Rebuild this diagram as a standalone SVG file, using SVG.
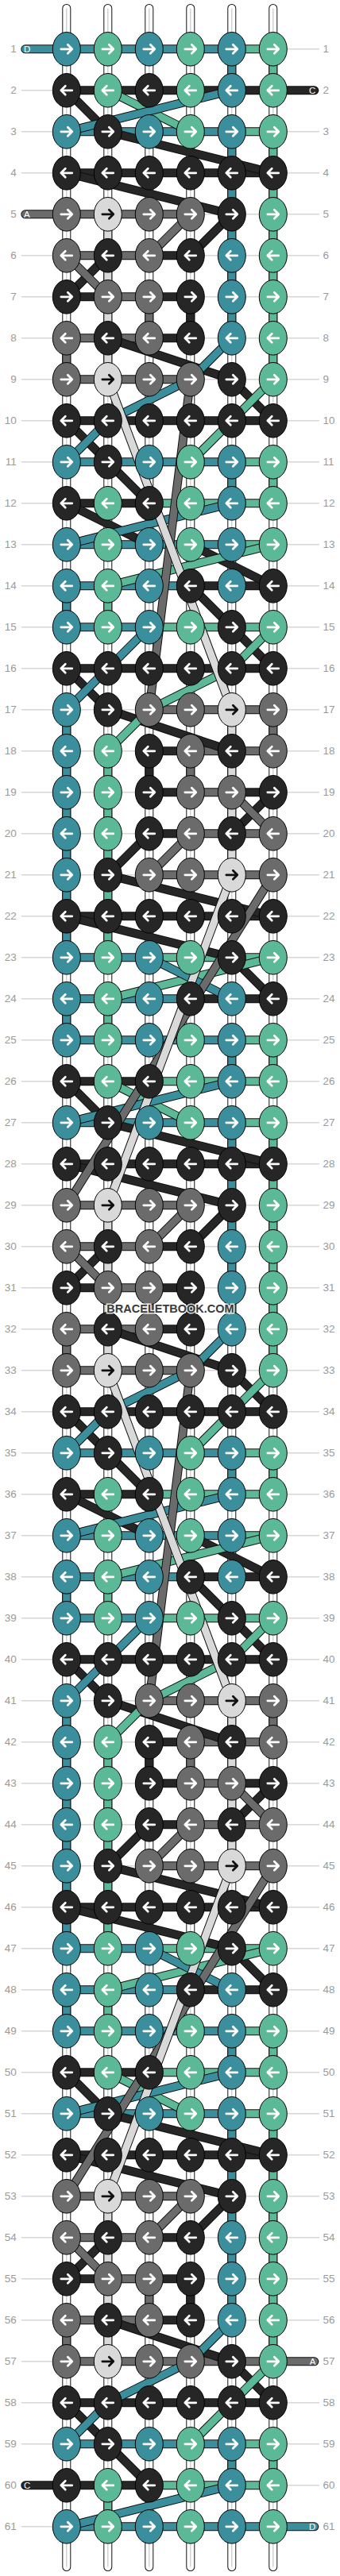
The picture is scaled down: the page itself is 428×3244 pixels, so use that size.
<svg xmlns="http://www.w3.org/2000/svg" width="428" height="3244" viewBox="0 0 428 3244">
<style>
.o{fill:none;stroke:#111;stroke-width:11;stroke-linejoin:round}
.cT{fill:none;stroke:#3b8f9d;stroke-width:9;stroke-linejoin:round}
.cM{fill:none;stroke:#5cb997;stroke-width:9;stroke-linejoin:round}
.cK{fill:none;stroke:#262626;stroke-width:9;stroke-linejoin:round}
.cG{fill:none;stroke:#6b6b6b;stroke-width:9;stroke-linejoin:round}
.cL{fill:none;stroke:#d9d9d9;stroke-width:9;stroke-linejoin:round}
.lbl{font-family:"Liberation Sans",Arial,sans-serif;font-size:13.5px;fill:#9a9a9a}
.ext{font-family:"Liberation Sans",Arial,sans-serif;font-size:11.5px;fill:#fff}
</style>
<defs>
<ellipse id="e" rx="17.5" ry="21.3" stroke="#000" stroke-width="1"/>
<path id="a" d="M-7,0H6M1.5,-5.5L7,0L1.5,5.5" fill="none" stroke-width="2.7" stroke-linecap="round" stroke-linejoin="round"/>
<g id="TR"><use href="#e" fill="#3b8f9d"/><use href="#a" stroke="#fff"/></g>
<g id="TL"><use href="#e" fill="#3b8f9d"/><use href="#a" stroke="#fff" transform="scale(-1,1)"/></g>
<g id="MR"><use href="#e" fill="#5cb997"/><use href="#a" stroke="#fff"/></g>
<g id="ML"><use href="#e" fill="#5cb997"/><use href="#a" stroke="#fff" transform="scale(-1,1)"/></g>
<g id="KR"><use href="#e" fill="#262626"/><use href="#a" stroke="#fff"/></g>
<g id="KL"><use href="#e" fill="#262626"/><use href="#a" stroke="#fff" transform="scale(-1,1)"/></g>
<g id="GR"><use href="#e" fill="#6b6b6b"/><use href="#a" stroke="#fff"/></g>
<g id="GL"><use href="#e" fill="#6b6b6b"/><use href="#a" stroke="#fff" transform="scale(-1,1)"/></g>
<g id="LR"><use href="#e" fill="#d9d9d9"/><use href="#a" stroke="#111"/></g>
<g id="LL"><use href="#e" fill="#d9d9d9"/><use href="#a" stroke="#111" transform="scale(-1,1)"/></g>
<path id="pp" d="M0,-51.3V3170.7M52,-51.3V3170.7M104,-51.3V3170.7M156,-51.3V3170.7M208,-51.3V3170.7M260,-51.3V3170.7"/>
<path id="S1T" d="M0,0H208M0,104H208M0,520H208M208,0V52M208,104V364M208,520V572"/>
<path id="S1M" d="M208,0H260M208,104H260M208,520H260M104,572H260M260,0V52M260,104V416M260,520V572"/>
<path id="S1K" d="M0,156H260M104,260H156M0,312H52M104,312H156M104,364H156M0,468H260M0,572H104M156,312V364"/>
<path id="S1G" d="M0,208H156M0,260H104M52,312H104M0,364H104M104,312V364M0,364V416"/>
<path id="S1L" d="M52,208V416"/>
<path id="S2T" d="M0,624H208M0,676H156M0,728H104M0,1144H104M0,1196H156M0,676V728M0,832V1144M0,1196V1248"/>
<path id="S2M" d="M208,624H260M104,728H260M104,1144H260M52,676V728M52,884V1144M52,1196V1248"/>
<path id="S2K" d="M156,676H260M0,780H260M104,884H156M104,936H156M208,936H260M104,988H156M0,1092H260M156,1196H260M104,884V936"/>
<path id="S2G" d="M104,832H260M156,884H260M156,936H208M156,988H260M104,1040H260M260,832V884M156,884V936"/>
<path id="S2L" d="M208,832V1040"/>
<path id="XT" d="M-52,0H0M0,3120H312" stroke-linecap="round"/>
<path id="XK" d="M0,52H312M-52,3068H0M0,1300H104M0,2548H104" stroke-linecap="round"/>
<path id="XM" d="M104,1300H260M104,2548H260M52,3068V3120"/>
<path id="XG" d="M-52,208H0M0,416H156M0,1664H156M0,2912H312" stroke-linecap="round"/>
<path id="D1T" d="M208,52L0,104M208,364L156,416L52,468L0,520M208,572L0,624"/>
<path id="D1M" d="M52,52L156,104M260,416L208,468L156,520"/>
<path id="D1K" d="M0,52L52,104M52,104L260,156M0,156L208,208M208,208L156,260M52,260L0,312M52,364L208,416M208,416L260,468M0,468L52,520M52,520L104,572"/>
<path id="D1G" d="M156,208L104,260M0,260L52,312"/>
<path id="D2T" d="M104,728L52,780L0,832M104,1144L208,1196"/>
<path id="D2M" d="M52,676L260,624M260,728L208,780L104,832L52,884M260,1144L52,1196"/>
<path id="D2K" d="M0,572L104,624M156,624L260,676M156,676L208,728M208,728L260,780M0,780L52,832M52,832L208,884M260,936L208,988M104,988L52,1040M52,1040L260,1092M0,1092L208,1144M208,1144L260,1196"/>
<path id="D2G" d="M156,416L104,832M208,936L260,988M156,988L104,1040M260,1040L0,1456"/>
<path id="D2L" d="M52,416L208,832M208,1040L52,1456"/>
<g id="gST"><use href="#S1T"/><use href="#S1T" y="1248"/><use href="#S1T" y="2496"/><use href="#S2T"/><use href="#S2T" y="1248"/><use href="#XT"/></g>
<g id="gSM"><use href="#S1M"/><use href="#S1M" y="1248"/><use href="#S1M" y="2496"/><use href="#S2M"/><use href="#S2M" y="1248"/><use href="#XM"/></g>
<g id="gSK"><use href="#S1K"/><use href="#S1K" y="1248"/><use href="#S1K" y="2496"/><use href="#S2K"/><use href="#S2K" y="1248"/><use href="#XK"/></g>
<g id="gSG"><use href="#S1G"/><use href="#S1G" y="1248"/><use href="#S1G" y="2496"/><use href="#S2G"/><use href="#S2G" y="1248"/><use href="#XG"/></g>
<g id="gSL"><use href="#S1L"/><use href="#S1L" y="1248"/><use href="#S1L" y="2496"/><use href="#S2L"/><use href="#S2L" y="1248"/></g>
<g id="gDT"><use href="#D1T"/><use href="#D1T" y="1248"/><use href="#D1T" y="2496"/><use href="#D2T"/><use href="#D2T" y="1248"/></g>
<g id="gDM"><use href="#D1M"/><use href="#D1M" y="1248"/><use href="#D1M" y="2496"/><use href="#D2M"/><use href="#D2M" y="1248"/></g>
<g id="gDK"><use href="#D1K"/><use href="#D1K" y="1248"/><use href="#D1K" y="2496"/><use href="#D2K"/><use href="#D2K" y="1248"/></g>
<g id="gDG"><use href="#D1G"/><use href="#D1G" y="1248"/><use href="#D1G" y="2496"/><use href="#D2G"/><use href="#D2G" y="1248"/></g>
<g id="gDL"><use href="#D2L"/><use href="#D2L" y="1248"/></g>
</defs>
<rect width="428" height="3244" fill="#fff"/>
<g transform="translate(83.8,61.8)">
<path id="rowlines" fill="none" stroke="#c4c4c4" stroke-width="1" d="M-56.8,0H318.2M-56.8,52H318.2M-56.8,104H318.2M-56.8,156H318.2M-56.8,208H318.2M-56.8,260H318.2M-56.8,312H318.2M-56.8,364H318.2M-56.8,416H318.2M-56.8,468H318.2M-56.8,520H318.2M-56.8,572H318.2M-56.8,624H318.2M-56.8,676H318.2M-56.8,728H318.2M-56.8,780H318.2M-56.8,832H318.2M-56.8,884H318.2M-56.8,936H318.2M-56.8,988H318.2M-56.8,1040H318.2M-56.8,1092H318.2M-56.8,1144H318.2M-56.8,1196H318.2M-56.8,1248H318.2M-56.8,1300H318.2M-56.8,1352H318.2M-56.8,1404H318.2M-56.8,1456H318.2M-56.8,1508H318.2M-56.8,1560H318.2M-56.8,1612H318.2M-56.8,1664H318.2M-56.8,1716H318.2M-56.8,1768H318.2M-56.8,1820H318.2M-56.8,1872H318.2M-56.8,1924H318.2M-56.8,1976H318.2M-56.8,2028H318.2M-56.8,2080H318.2M-56.8,2132H318.2M-56.8,2184H318.2M-56.8,2236H318.2M-56.8,2288H318.2M-56.8,2340H318.2M-56.8,2392H318.2M-56.8,2444H318.2M-56.8,2496H318.2M-56.8,2548H318.2M-56.8,2600H318.2M-56.8,2652H318.2M-56.8,2704H318.2M-56.8,2756H318.2M-56.8,2808H318.2M-56.8,2860H318.2M-56.8,2912H318.2M-56.8,2964H318.2M-56.8,3016H318.2M-56.8,3068H318.2M-56.8,3120H318.2"/>
<g id="strings">
<use href="#pp" class="o" stroke-linecap="round"/>
<use href="#pp" fill="none" stroke="#fff" stroke-width="9" stroke-linecap="round"/>
<use href="#pp" fill="none" stroke="#c8c8c8" stroke-width="1.2"/>
</g>
<g id="connectors">
<use href="#gST" class="o"/><use href="#gST" class="cT"/>
<use href="#gSM" class="o"/><use href="#gSM" class="cM"/>
<use href="#gSK" class="o"/><use href="#gSK" class="cK"/>
<use href="#gSG" class="o"/><use href="#gSG" class="cG"/>
<use href="#gSL" class="o"/><use href="#gSL" class="cL"/>
<use href="#gDK" class="o"/><use href="#gDK" class="cK"/>
<use href="#gDM" class="o"/><use href="#gDM" class="cM"/>
<use href="#gDT" class="o"/><use href="#gDT" class="cT"/>
<use href="#gDG" class="o"/><use href="#gDG" class="cG"/>
<use href="#gDL" class="o"/><use href="#gDL" class="cL"/>
</g>
<g id="knots">
<g transform="translate(0,0)"><g id="n1-1"><use href="#TR"/></g><g id="n1-2"><use href="#MR" x="52"/></g><g id="n1-3"><use href="#TR" x="104"/></g><g id="n1-4"><use href="#MR" x="156"/></g><g id="n1-5"><use href="#TR" x="208"/></g><g id="n1-6"><use href="#MR" x="260"/></g></g>
<g transform="translate(0,52)"><g id="n2-1"><use href="#KL"/></g><g id="n2-2"><use href="#ML" x="52"/></g><g id="n2-3"><use href="#KL" x="104"/></g><g id="n2-4"><use href="#ML" x="156"/></g><g id="n2-5"><use href="#TL" x="208"/></g><g id="n2-6"><use href="#ML" x="260"/></g></g>
<g transform="translate(0,104)"><g id="n3-1"><use href="#TR"/></g><g id="n3-2"><use href="#KR" x="52"/></g><g id="n3-3"><use href="#TR" x="104"/></g><g id="n3-4"><use href="#MR" x="156"/></g><g id="n3-5"><use href="#TR" x="208"/></g><g id="n3-6"><use href="#MR" x="260"/></g></g>
<g transform="translate(0,156)"><g id="n4-1"><use href="#KL"/></g><g id="n4-2"><use href="#KL" x="52"/></g><g id="n4-3"><use href="#KL" x="104"/></g><g id="n4-4"><use href="#KL" x="156"/></g><g id="n4-5"><use href="#KL" x="208"/></g><g id="n4-6"><use href="#KL" x="260"/></g></g>
<g transform="translate(0,208)"><g id="n5-1"><use href="#GR"/></g><g id="n5-2"><use href="#LR" x="52"/></g><g id="n5-3"><use href="#GR" x="104"/></g><g id="n5-4"><use href="#GR" x="156"/></g><g id="n5-5"><use href="#KR" x="208"/></g><g id="n5-6"><use href="#MR" x="260"/></g></g>
<g transform="translate(0,260)"><g id="n6-1"><use href="#GL"/></g><g id="n6-2"><use href="#KL" x="52"/></g><g id="n6-3"><use href="#GL" x="104"/></g><g id="n6-4"><use href="#KL" x="156"/></g><g id="n6-5"><use href="#TL" x="208"/></g><g id="n6-6"><use href="#ML" x="260"/></g></g>
<g transform="translate(0,312)"><g id="n7-1"><use href="#KR"/></g><g id="n7-2"><use href="#GR" x="52"/></g><g id="n7-3"><use href="#GR" x="104"/></g><g id="n7-4"><use href="#KR" x="156"/></g><g id="n7-5"><use href="#TR" x="208"/></g><g id="n7-6"><use href="#MR" x="260"/></g></g>
<g transform="translate(0,364)"><g id="n8-1"><use href="#GL"/></g><g id="n8-2"><use href="#KL" x="52"/></g><g id="n8-3"><use href="#GL" x="104"/></g><g id="n8-4"><use href="#KL" x="156"/></g><g id="n8-5"><use href="#TL" x="208"/></g><g id="n8-6"><use href="#ML" x="260"/></g></g>
<g transform="translate(0,416)"><g id="n9-1"><use href="#GR"/></g><g id="n9-2"><use href="#LR" x="52"/></g><g id="n9-3"><use href="#GR" x="104"/></g><g id="n9-4"><use href="#GR" x="156"/></g><g id="n9-5"><use href="#KR" x="208"/></g><g id="n9-6"><use href="#MR" x="260"/></g></g>
<g transform="translate(0,468)"><g id="n10-1"><use href="#KL"/></g><g id="n10-2"><use href="#KL" x="52"/></g><g id="n10-3"><use href="#KL" x="104"/></g><g id="n10-4"><use href="#KL" x="156"/></g><g id="n10-5"><use href="#KL" x="208"/></g><g id="n10-6"><use href="#KL" x="260"/></g></g>
<g transform="translate(0,520)"><g id="n11-1"><use href="#TR"/></g><g id="n11-2"><use href="#KR" x="52"/></g><g id="n11-3"><use href="#TR" x="104"/></g><g id="n11-4"><use href="#MR" x="156"/></g><g id="n11-5"><use href="#TR" x="208"/></g><g id="n11-6"><use href="#MR" x="260"/></g></g>
<g transform="translate(0,572)"><g id="n12-1"><use href="#KL"/></g><g id="n12-2"><use href="#ML" x="52"/></g><g id="n12-3"><use href="#KL" x="104"/></g><g id="n12-4"><use href="#ML" x="156"/></g><g id="n12-5"><use href="#TL" x="208"/></g><g id="n12-6"><use href="#ML" x="260"/></g></g>
<g transform="translate(0,624)"><g id="n13-1"><use href="#TR"/></g><g id="n13-2"><use href="#MR" x="52"/></g><g id="n13-3"><use href="#TR" x="104"/></g><g id="n13-4"><use href="#MR" x="156"/></g><g id="n13-5"><use href="#TR" x="208"/></g><g id="n13-6"><use href="#MR" x="260"/></g></g>
<g transform="translate(0,676)"><g id="n14-1"><use href="#TL"/></g><g id="n14-2"><use href="#ML" x="52"/></g><g id="n14-3"><use href="#TL" x="104"/></g><g id="n14-4"><use href="#KL" x="156"/></g><g id="n14-5"><use href="#TL" x="208"/></g><g id="n14-6"><use href="#KL" x="260"/></g></g>
<g transform="translate(0,728)"><g id="n15-1"><use href="#TR"/></g><g id="n15-2"><use href="#MR" x="52"/></g><g id="n15-3"><use href="#TR" x="104"/></g><g id="n15-4"><use href="#MR" x="156"/></g><g id="n15-5"><use href="#KR" x="208"/></g><g id="n15-6"><use href="#MR" x="260"/></g></g>
<g transform="translate(0,780)"><g id="n16-1"><use href="#KL"/></g><g id="n16-2"><use href="#KL" x="52"/></g><g id="n16-3"><use href="#KL" x="104"/></g><g id="n16-4"><use href="#KL" x="156"/></g><g id="n16-5"><use href="#KL" x="208"/></g><g id="n16-6"><use href="#KL" x="260"/></g></g>
<g transform="translate(0,832)"><g id="n17-1"><use href="#TR"/></g><g id="n17-2"><use href="#KR" x="52"/></g><g id="n17-3"><use href="#GR" x="104"/></g><g id="n17-4"><use href="#GR" x="156"/></g><g id="n17-5"><use href="#LR" x="208"/></g><g id="n17-6"><use href="#GR" x="260"/></g></g>
<g transform="translate(0,884)"><g id="n18-1"><use href="#TL"/></g><g id="n18-2"><use href="#ML" x="52"/></g><g id="n18-3"><use href="#KL" x="104"/></g><g id="n18-4"><use href="#GL" x="156"/></g><g id="n18-5"><use href="#KL" x="208"/></g><g id="n18-6"><use href="#GL" x="260"/></g></g>
<g transform="translate(0,936)"><g id="n19-1"><use href="#TR"/></g><g id="n19-2"><use href="#MR" x="52"/></g><g id="n19-3"><use href="#KR" x="104"/></g><g id="n19-4"><use href="#GR" x="156"/></g><g id="n19-5"><use href="#GR" x="208"/></g><g id="n19-6"><use href="#KR" x="260"/></g></g>
<g transform="translate(0,988)"><g id="n20-1"><use href="#TL"/></g><g id="n20-2"><use href="#ML" x="52"/></g><g id="n20-3"><use href="#KL" x="104"/></g><g id="n20-4"><use href="#GL" x="156"/></g><g id="n20-5"><use href="#KL" x="208"/></g><g id="n20-6"><use href="#GL" x="260"/></g></g>
<g transform="translate(0,1040)"><g id="n21-1"><use href="#TR"/></g><g id="n21-2"><use href="#KR" x="52"/></g><g id="n21-3"><use href="#GR" x="104"/></g><g id="n21-4"><use href="#GR" x="156"/></g><g id="n21-5"><use href="#LR" x="208"/></g><g id="n21-6"><use href="#GR" x="260"/></g></g>
<g transform="translate(0,1092)"><g id="n22-1"><use href="#KL"/></g><g id="n22-2"><use href="#KL" x="52"/></g><g id="n22-3"><use href="#KL" x="104"/></g><g id="n22-4"><use href="#KL" x="156"/></g><g id="n22-5"><use href="#KL" x="208"/></g><g id="n22-6"><use href="#KL" x="260"/></g></g>
<g transform="translate(0,1144)"><g id="n23-1"><use href="#TR"/></g><g id="n23-2"><use href="#MR" x="52"/></g><g id="n23-3"><use href="#TR" x="104"/></g><g id="n23-4"><use href="#MR" x="156"/></g><g id="n23-5"><use href="#KR" x="208"/></g><g id="n23-6"><use href="#MR" x="260"/></g></g>
<g transform="translate(0,1196)"><g id="n24-1"><use href="#TL"/></g><g id="n24-2"><use href="#ML" x="52"/></g><g id="n24-3"><use href="#TL" x="104"/></g><g id="n24-4"><use href="#KL" x="156"/></g><g id="n24-5"><use href="#TL" x="208"/></g><g id="n24-6"><use href="#KL" x="260"/></g></g>
<g transform="translate(0,1248)"><g id="n25-1"><use href="#TR"/></g><g id="n25-2"><use href="#MR" x="52"/></g><g id="n25-3"><use href="#TR" x="104"/></g><g id="n25-4"><use href="#MR" x="156"/></g><g id="n25-5"><use href="#TR" x="208"/></g><g id="n25-6"><use href="#MR" x="260"/></g></g>
<g transform="translate(0,1300)"><g id="n26-1"><use href="#KL"/></g><g id="n26-2"><use href="#ML" x="52"/></g><g id="n26-3"><use href="#KL" x="104"/></g><g id="n26-4"><use href="#ML" x="156"/></g><g id="n26-5"><use href="#TL" x="208"/></g><g id="n26-6"><use href="#ML" x="260"/></g></g>
<g transform="translate(0,1352)"><g id="n27-1"><use href="#TR"/></g><g id="n27-2"><use href="#KR" x="52"/></g><g id="n27-3"><use href="#TR" x="104"/></g><g id="n27-4"><use href="#MR" x="156"/></g><g id="n27-5"><use href="#TR" x="208"/></g><g id="n27-6"><use href="#MR" x="260"/></g></g>
<g transform="translate(0,1404)"><g id="n28-1"><use href="#KL"/></g><g id="n28-2"><use href="#KL" x="52"/></g><g id="n28-3"><use href="#KL" x="104"/></g><g id="n28-4"><use href="#KL" x="156"/></g><g id="n28-5"><use href="#KL" x="208"/></g><g id="n28-6"><use href="#KL" x="260"/></g></g>
<g transform="translate(0,1456)"><g id="n29-1"><use href="#GR"/></g><g id="n29-2"><use href="#LR" x="52"/></g><g id="n29-3"><use href="#GR" x="104"/></g><g id="n29-4"><use href="#GR" x="156"/></g><g id="n29-5"><use href="#KR" x="208"/></g><g id="n29-6"><use href="#MR" x="260"/></g></g>
<g transform="translate(0,1508)"><g id="n30-1"><use href="#GL"/></g><g id="n30-2"><use href="#KL" x="52"/></g><g id="n30-3"><use href="#GL" x="104"/></g><g id="n30-4"><use href="#KL" x="156"/></g><g id="n30-5"><use href="#TL" x="208"/></g><g id="n30-6"><use href="#ML" x="260"/></g></g>
<g transform="translate(0,1560)"><g id="n31-1"><use href="#KR"/></g><g id="n31-2"><use href="#GR" x="52"/></g><g id="n31-3"><use href="#GR" x="104"/></g><g id="n31-4"><use href="#KR" x="156"/></g><g id="n31-5"><use href="#TR" x="208"/></g><g id="n31-6"><use href="#MR" x="260"/></g></g>
<g transform="translate(0,1612)"><g id="n32-1"><use href="#GL"/></g><g id="n32-2"><use href="#KL" x="52"/></g><g id="n32-3"><use href="#GL" x="104"/></g><g id="n32-4"><use href="#KL" x="156"/></g><g id="n32-5"><use href="#TL" x="208"/></g><g id="n32-6"><use href="#ML" x="260"/></g></g>
<g transform="translate(0,1664)"><g id="n33-1"><use href="#GR"/></g><g id="n33-2"><use href="#LR" x="52"/></g><g id="n33-3"><use href="#GR" x="104"/></g><g id="n33-4"><use href="#GR" x="156"/></g><g id="n33-5"><use href="#KR" x="208"/></g><g id="n33-6"><use href="#MR" x="260"/></g></g>
<g transform="translate(0,1716)"><g id="n34-1"><use href="#KL"/></g><g id="n34-2"><use href="#KL" x="52"/></g><g id="n34-3"><use href="#KL" x="104"/></g><g id="n34-4"><use href="#KL" x="156"/></g><g id="n34-5"><use href="#KL" x="208"/></g><g id="n34-6"><use href="#KL" x="260"/></g></g>
<g transform="translate(0,1768)"><g id="n35-1"><use href="#TR"/></g><g id="n35-2"><use href="#KR" x="52"/></g><g id="n35-3"><use href="#TR" x="104"/></g><g id="n35-4"><use href="#MR" x="156"/></g><g id="n35-5"><use href="#TR" x="208"/></g><g id="n35-6"><use href="#MR" x="260"/></g></g>
<g transform="translate(0,1820)"><g id="n36-1"><use href="#KL"/></g><g id="n36-2"><use href="#ML" x="52"/></g><g id="n36-3"><use href="#KL" x="104"/></g><g id="n36-4"><use href="#ML" x="156"/></g><g id="n36-5"><use href="#TL" x="208"/></g><g id="n36-6"><use href="#ML" x="260"/></g></g>
<g transform="translate(0,1872)"><g id="n37-1"><use href="#TR"/></g><g id="n37-2"><use href="#MR" x="52"/></g><g id="n37-3"><use href="#TR" x="104"/></g><g id="n37-4"><use href="#MR" x="156"/></g><g id="n37-5"><use href="#TR" x="208"/></g><g id="n37-6"><use href="#MR" x="260"/></g></g>
<g transform="translate(0,1924)"><g id="n38-1"><use href="#TL"/></g><g id="n38-2"><use href="#ML" x="52"/></g><g id="n38-3"><use href="#TL" x="104"/></g><g id="n38-4"><use href="#KL" x="156"/></g><g id="n38-5"><use href="#TL" x="208"/></g><g id="n38-6"><use href="#KL" x="260"/></g></g>
<g transform="translate(0,1976)"><g id="n39-1"><use href="#TR"/></g><g id="n39-2"><use href="#MR" x="52"/></g><g id="n39-3"><use href="#TR" x="104"/></g><g id="n39-4"><use href="#MR" x="156"/></g><g id="n39-5"><use href="#KR" x="208"/></g><g id="n39-6"><use href="#MR" x="260"/></g></g>
<g transform="translate(0,2028)"><g id="n40-1"><use href="#KL"/></g><g id="n40-2"><use href="#KL" x="52"/></g><g id="n40-3"><use href="#KL" x="104"/></g><g id="n40-4"><use href="#KL" x="156"/></g><g id="n40-5"><use href="#KL" x="208"/></g><g id="n40-6"><use href="#KL" x="260"/></g></g>
<g transform="translate(0,2080)"><g id="n41-1"><use href="#TR"/></g><g id="n41-2"><use href="#KR" x="52"/></g><g id="n41-3"><use href="#GR" x="104"/></g><g id="n41-4"><use href="#GR" x="156"/></g><g id="n41-5"><use href="#LR" x="208"/></g><g id="n41-6"><use href="#GR" x="260"/></g></g>
<g transform="translate(0,2132)"><g id="n42-1"><use href="#TL"/></g><g id="n42-2"><use href="#ML" x="52"/></g><g id="n42-3"><use href="#KL" x="104"/></g><g id="n42-4"><use href="#GL" x="156"/></g><g id="n42-5"><use href="#KL" x="208"/></g><g id="n42-6"><use href="#GL" x="260"/></g></g>
<g transform="translate(0,2184)"><g id="n43-1"><use href="#TR"/></g><g id="n43-2"><use href="#MR" x="52"/></g><g id="n43-3"><use href="#KR" x="104"/></g><g id="n43-4"><use href="#GR" x="156"/></g><g id="n43-5"><use href="#GR" x="208"/></g><g id="n43-6"><use href="#KR" x="260"/></g></g>
<g transform="translate(0,2236)"><g id="n44-1"><use href="#TL"/></g><g id="n44-2"><use href="#ML" x="52"/></g><g id="n44-3"><use href="#KL" x="104"/></g><g id="n44-4"><use href="#GL" x="156"/></g><g id="n44-5"><use href="#KL" x="208"/></g><g id="n44-6"><use href="#GL" x="260"/></g></g>
<g transform="translate(0,2288)"><g id="n45-1"><use href="#TR"/></g><g id="n45-2"><use href="#KR" x="52"/></g><g id="n45-3"><use href="#GR" x="104"/></g><g id="n45-4"><use href="#GR" x="156"/></g><g id="n45-5"><use href="#LR" x="208"/></g><g id="n45-6"><use href="#GR" x="260"/></g></g>
<g transform="translate(0,2340)"><g id="n46-1"><use href="#KL"/></g><g id="n46-2"><use href="#KL" x="52"/></g><g id="n46-3"><use href="#KL" x="104"/></g><g id="n46-4"><use href="#KL" x="156"/></g><g id="n46-5"><use href="#KL" x="208"/></g><g id="n46-6"><use href="#KL" x="260"/></g></g>
<g transform="translate(0,2392)"><g id="n47-1"><use href="#TR"/></g><g id="n47-2"><use href="#MR" x="52"/></g><g id="n47-3"><use href="#TR" x="104"/></g><g id="n47-4"><use href="#MR" x="156"/></g><g id="n47-5"><use href="#KR" x="208"/></g><g id="n47-6"><use href="#MR" x="260"/></g></g>
<g transform="translate(0,2444)"><g id="n48-1"><use href="#TL"/></g><g id="n48-2"><use href="#ML" x="52"/></g><g id="n48-3"><use href="#TL" x="104"/></g><g id="n48-4"><use href="#KL" x="156"/></g><g id="n48-5"><use href="#TL" x="208"/></g><g id="n48-6"><use href="#KL" x="260"/></g></g>
<g transform="translate(0,2496)"><g id="n49-1"><use href="#TR"/></g><g id="n49-2"><use href="#MR" x="52"/></g><g id="n49-3"><use href="#TR" x="104"/></g><g id="n49-4"><use href="#MR" x="156"/></g><g id="n49-5"><use href="#TR" x="208"/></g><g id="n49-6"><use href="#MR" x="260"/></g></g>
<g transform="translate(0,2548)"><g id="n50-1"><use href="#KL"/></g><g id="n50-2"><use href="#ML" x="52"/></g><g id="n50-3"><use href="#KL" x="104"/></g><g id="n50-4"><use href="#ML" x="156"/></g><g id="n50-5"><use href="#TL" x="208"/></g><g id="n50-6"><use href="#ML" x="260"/></g></g>
<g transform="translate(0,2600)"><g id="n51-1"><use href="#TR"/></g><g id="n51-2"><use href="#KR" x="52"/></g><g id="n51-3"><use href="#TR" x="104"/></g><g id="n51-4"><use href="#MR" x="156"/></g><g id="n51-5"><use href="#TR" x="208"/></g><g id="n51-6"><use href="#MR" x="260"/></g></g>
<g transform="translate(0,2652)"><g id="n52-1"><use href="#KL"/></g><g id="n52-2"><use href="#KL" x="52"/></g><g id="n52-3"><use href="#KL" x="104"/></g><g id="n52-4"><use href="#KL" x="156"/></g><g id="n52-5"><use href="#KL" x="208"/></g><g id="n52-6"><use href="#KL" x="260"/></g></g>
<g transform="translate(0,2704)"><g id="n53-1"><use href="#GR"/></g><g id="n53-2"><use href="#LR" x="52"/></g><g id="n53-3"><use href="#GR" x="104"/></g><g id="n53-4"><use href="#GR" x="156"/></g><g id="n53-5"><use href="#KR" x="208"/></g><g id="n53-6"><use href="#MR" x="260"/></g></g>
<g transform="translate(0,2756)"><g id="n54-1"><use href="#GL"/></g><g id="n54-2"><use href="#KL" x="52"/></g><g id="n54-3"><use href="#GL" x="104"/></g><g id="n54-4"><use href="#KL" x="156"/></g><g id="n54-5"><use href="#TL" x="208"/></g><g id="n54-6"><use href="#ML" x="260"/></g></g>
<g transform="translate(0,2808)"><g id="n55-1"><use href="#KR"/></g><g id="n55-2"><use href="#GR" x="52"/></g><g id="n55-3"><use href="#GR" x="104"/></g><g id="n55-4"><use href="#KR" x="156"/></g><g id="n55-5"><use href="#TR" x="208"/></g><g id="n55-6"><use href="#MR" x="260"/></g></g>
<g transform="translate(0,2860)"><g id="n56-1"><use href="#GL"/></g><g id="n56-2"><use href="#KL" x="52"/></g><g id="n56-3"><use href="#GL" x="104"/></g><g id="n56-4"><use href="#KL" x="156"/></g><g id="n56-5"><use href="#TL" x="208"/></g><g id="n56-6"><use href="#ML" x="260"/></g></g>
<g transform="translate(0,2912)"><g id="n57-1"><use href="#GR"/></g><g id="n57-2"><use href="#LR" x="52"/></g><g id="n57-3"><use href="#GR" x="104"/></g><g id="n57-4"><use href="#GR" x="156"/></g><g id="n57-5"><use href="#KR" x="208"/></g><g id="n57-6"><use href="#MR" x="260"/></g></g>
<g transform="translate(0,2964)"><g id="n58-1"><use href="#KL"/></g><g id="n58-2"><use href="#KL" x="52"/></g><g id="n58-3"><use href="#KL" x="104"/></g><g id="n58-4"><use href="#KL" x="156"/></g><g id="n58-5"><use href="#KL" x="208"/></g><g id="n58-6"><use href="#KL" x="260"/></g></g>
<g transform="translate(0,3016)"><g id="n59-1"><use href="#TR"/></g><g id="n59-2"><use href="#KR" x="52"/></g><g id="n59-3"><use href="#TR" x="104"/></g><g id="n59-4"><use href="#MR" x="156"/></g><g id="n59-5"><use href="#TR" x="208"/></g><g id="n59-6"><use href="#MR" x="260"/></g></g>
<g transform="translate(0,3068)"><g id="n60-1"><use href="#KL"/></g><g id="n60-2"><use href="#ML" x="52"/></g><g id="n60-3"><use href="#KL" x="104"/></g><g id="n60-4"><use href="#ML" x="156"/></g><g id="n60-5"><use href="#TL" x="208"/></g><g id="n60-6"><use href="#ML" x="260"/></g></g>
<g transform="translate(0,3120)"><g id="n61-1"><use href="#TR"/></g><g id="n61-2"><use href="#MR" x="52"/></g><g id="n61-3"><use href="#TR" x="104"/></g><g id="n61-4"><use href="#MR" x="156"/></g><g id="n61-5"><use href="#TR" x="208"/></g><g id="n61-6"><use href="#MR" x="260"/></g></g>
</g>
<g id="ends" class="ext">
<text x="-53.8" y="4">D</text>
<text x="313.5" y="56" text-anchor="end">C</text>
<text x="-53.8" y="212">A</text>
<text x="313.5" y="2916" text-anchor="end">A</text>
<text x="-53.8" y="3072">C</text>
<text x="313.5" y="3124" text-anchor="end">D</text>
</g>
<text id="watermark" x="130.7" y="1591" text-anchor="middle" font-family="Liberation Sans, Arial, sans-serif" font-weight="bold" font-size="14.5" fill="#3a3a3a" stroke="#fff" stroke-opacity="0.85" stroke-width="3" paint-order="stroke">BRACELETBOOK.COM</text>
<g id="labels-left" class="lbl" text-anchor="end">
<text x="-63" y="4.6">1</text><text x="-63" y="56.6">2</text><text x="-63" y="108.6">3</text><text x="-63" y="160.6">4</text><text x="-63" y="212.6">5</text><text x="-63" y="264.6">6</text><text x="-63" y="316.6">7</text><text x="-63" y="368.6">8</text><text x="-63" y="420.6">9</text><text x="-63" y="472.6">10</text><text x="-63" y="524.6">11</text><text x="-63" y="576.6">12</text><text x="-63" y="628.6">13</text><text x="-63" y="680.6">14</text><text x="-63" y="732.6">15</text><text x="-63" y="784.6">16</text><text x="-63" y="836.6">17</text><text x="-63" y="888.6">18</text><text x="-63" y="940.6">19</text><text x="-63" y="992.6">20</text><text x="-63" y="1044.6">21</text><text x="-63" y="1096.6">22</text><text x="-63" y="1148.6">23</text><text x="-63" y="1200.6">24</text><text x="-63" y="1252.6">25</text><text x="-63" y="1304.6">26</text><text x="-63" y="1356.6">27</text><text x="-63" y="1408.6">28</text><text x="-63" y="1460.6">29</text><text x="-63" y="1512.6">30</text><text x="-63" y="1564.6">31</text><text x="-63" y="1616.6">32</text><text x="-63" y="1668.6">33</text><text x="-63" y="1720.6">34</text><text x="-63" y="1772.6">35</text><text x="-63" y="1824.6">36</text><text x="-63" y="1876.6">37</text><text x="-63" y="1928.6">38</text><text x="-63" y="1980.6">39</text><text x="-63" y="2032.6">40</text><text x="-63" y="2084.6">41</text><text x="-63" y="2136.6">42</text><text x="-63" y="2188.6">43</text><text x="-63" y="2240.6">44</text><text x="-63" y="2292.6">45</text><text x="-63" y="2344.6">46</text><text x="-63" y="2396.6">47</text><text x="-63" y="2448.6">48</text><text x="-63" y="2500.6">49</text><text x="-63" y="2552.6">50</text><text x="-63" y="2604.6">51</text><text x="-63" y="2656.6">52</text><text x="-63" y="2708.6">53</text><text x="-63" y="2760.6">54</text><text x="-63" y="2812.6">55</text><text x="-63" y="2864.6">56</text><text x="-63" y="2916.6">57</text><text x="-63" y="2968.6">58</text><text x="-63" y="3020.6">59</text><text x="-63" y="3072.6">60</text><text x="-63" y="3124.6">61</text>
</g>
<g id="labels-right" class="lbl">
<text x="322.7" y="4.6">1</text><text x="322.7" y="56.6">2</text><text x="322.7" y="108.6">3</text><text x="322.7" y="160.6">4</text><text x="322.7" y="212.6">5</text><text x="322.7" y="264.6">6</text><text x="322.7" y="316.6">7</text><text x="322.7" y="368.6">8</text><text x="322.7" y="420.6">9</text><text x="322.7" y="472.6">10</text><text x="322.7" y="524.6">11</text><text x="322.7" y="576.6">12</text><text x="322.7" y="628.6">13</text><text x="322.7" y="680.6">14</text><text x="322.7" y="732.6">15</text><text x="322.7" y="784.6">16</text><text x="322.7" y="836.6">17</text><text x="322.7" y="888.6">18</text><text x="322.7" y="940.6">19</text><text x="322.7" y="992.6">20</text><text x="322.7" y="1044.6">21</text><text x="322.7" y="1096.6">22</text><text x="322.7" y="1148.6">23</text><text x="322.7" y="1200.6">24</text><text x="322.7" y="1252.6">25</text><text x="322.7" y="1304.6">26</text><text x="322.7" y="1356.6">27</text><text x="322.7" y="1408.6">28</text><text x="322.7" y="1460.6">29</text><text x="322.7" y="1512.6">30</text><text x="322.7" y="1564.6">31</text><text x="322.7" y="1616.6">32</text><text x="322.7" y="1668.6">33</text><text x="322.7" y="1720.6">34</text><text x="322.7" y="1772.6">35</text><text x="322.7" y="1824.6">36</text><text x="322.7" y="1876.6">37</text><text x="322.7" y="1928.6">38</text><text x="322.7" y="1980.6">39</text><text x="322.7" y="2032.6">40</text><text x="322.7" y="2084.6">41</text><text x="322.7" y="2136.6">42</text><text x="322.7" y="2188.6">43</text><text x="322.7" y="2240.6">44</text><text x="322.7" y="2292.6">45</text><text x="322.7" y="2344.6">46</text><text x="322.7" y="2396.6">47</text><text x="322.7" y="2448.6">48</text><text x="322.7" y="2500.6">49</text><text x="322.7" y="2552.6">50</text><text x="322.7" y="2604.6">51</text><text x="322.7" y="2656.6">52</text><text x="322.7" y="2708.6">53</text><text x="322.7" y="2760.6">54</text><text x="322.7" y="2812.6">55</text><text x="322.7" y="2864.6">56</text><text x="322.7" y="2916.6">57</text><text x="322.7" y="2968.6">58</text><text x="322.7" y="3020.6">59</text><text x="322.7" y="3072.6">60</text><text x="322.7" y="3124.6">61</text>
</g>
</g>
</svg>
